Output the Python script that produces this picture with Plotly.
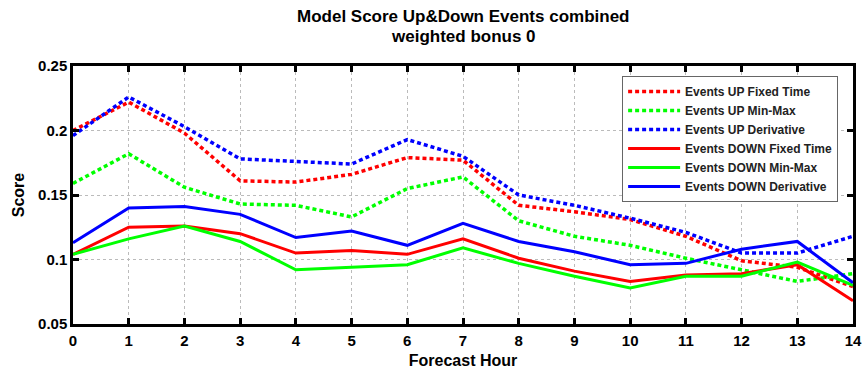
import plotly.graph_objects as go

hours = list(range(15))
tick_vals = [0.05, 0.1, 0.15, 0.2, 0.25]
tick_text = ["0.05", "0.1", "0.15", "0.2", "0.25"]
title_lines = ["Model Score Up&Down Events combined", "weighted bonus 0"]

up_fixed = [0.200, 0.222, 0.198, 0.161, 0.160, 0.166, 0.179, 0.177, 0.142, 0.137, 0.131, 0.118, 0.099, 0.094, 0.079]
up_minmax = [0.159, 0.182, 0.156, 0.143, 0.142, 0.133, 0.155, 0.164, 0.130, 0.118, 0.111, 0.101, 0.092, 0.083, 0.089]
up_deriv = [0.196, 0.226, 0.203, 0.178, 0.176, 0.174, 0.193, 0.180, 0.150, 0.142, 0.132, 0.121, 0.105, 0.105, 0.118]
down_fixed = [0.104, 0.125, 0.126, 0.120, 0.105, 0.107, 0.104, 0.116, 0.101, 0.091, 0.083, 0.088, 0.089, 0.096, 0.068]
down_minmax = [0.104, 0.116, 0.126, 0.114, 0.092, 0.094, 0.096, 0.109, 0.097, 0.087, 0.078, 0.087, 0.087, 0.098, 0.080]
down_deriv = [0.113, 0.140, 0.141, 0.135, 0.117, 0.122, 0.111, 0.128, 0.114, 0.106, 0.096, 0.097, 0.108, 0.114, 0.082]

series = [
    ("Events UP Fixed Time", up_fixed, "#FF0000", "4px,3px"),
    ("Events UP Min-Max", up_minmax, "#00FF00", "4px,3px"),
    ("Events UP Derivative", up_deriv, "#0000FF", "4px,3px"),
    ("Events DOWN Fixed Time", down_fixed, "#FF0000", "solid"),
    ("Events DOWN Min-Max", down_minmax, "#00FF00", "solid"),
    ("Events DOWN Derivative", down_deriv, "#0000FF", "solid"),
]

fig = go.Figure()
for name, vals, color, dash in series:
    fig.add_trace(go.Scatter(
        x=hours, y=vals, name=name, mode="lines",
        line=dict(color=color, width=3.5 if dash != "solid" else 3, dash=dash),
    ))

axis_common = dict(
    showline=True, linecolor="black", linewidth=2.5, mirror="ticks",
    ticks="inside", ticklen=6, tickwidth=2.5, tickcolor="black",
    showgrid=True, gridcolor="#BBBBBB", griddash="dot", gridwidth=1,
    zeroline=False, automargin=False,
    tickfont=dict(size=15, color="black", family="Liberation Sans", weight="bold"),
)

# two-line title placed above the plot area
title_font = dict(size=17, family="Liberation Sans", color="black", weight="bold")
for text, ypos in zip(title_lines, [1.19, 1.115]):
    fig.add_annotation(
        text=text, xref="paper", yref="paper", x=0.5, y=ypos,
        xanchor="center", yanchor="middle", showarrow=False, font=title_font,
    )

fig.update_layout(
    width=863, height=369,
    margin=dict(l=73, r=10, t=66, b=45),
    paper_bgcolor="white", plot_bgcolor="white",
    font=dict(family="Liberation Sans", color="black", weight="bold"),
    xaxis=dict(
        range=[0, 14], tickvals=hours, ticktext=[str(h) for h in hours],
        ticklabelstandoff=1,
        title=dict(text="Forecast Hour", standoff=12,
                   font=dict(size=16, family="Liberation Sans", weight="bold")),
        **axis_common,
    ),
    yaxis=dict(
        range=[0.05, 0.25], tickvals=tick_vals, ticktext=tick_text,
        title=dict(text="Score", standoff=10,
                   font=dict(size=16, family="Liberation Sans", weight="bold")),
        **axis_common,
    ),
    legend=dict(
        x=0.704, y=0.961, xanchor="left", yanchor="top",
        bgcolor="white", bordercolor="#666666", borderwidth=1,
        font=dict(size=12, family="Liberation Sans", color="#222222", weight="bold"),
        tracegroupgap=0, itemwidth=52,
    ),
    showlegend=True,
)

fig.write_html("out.html")
